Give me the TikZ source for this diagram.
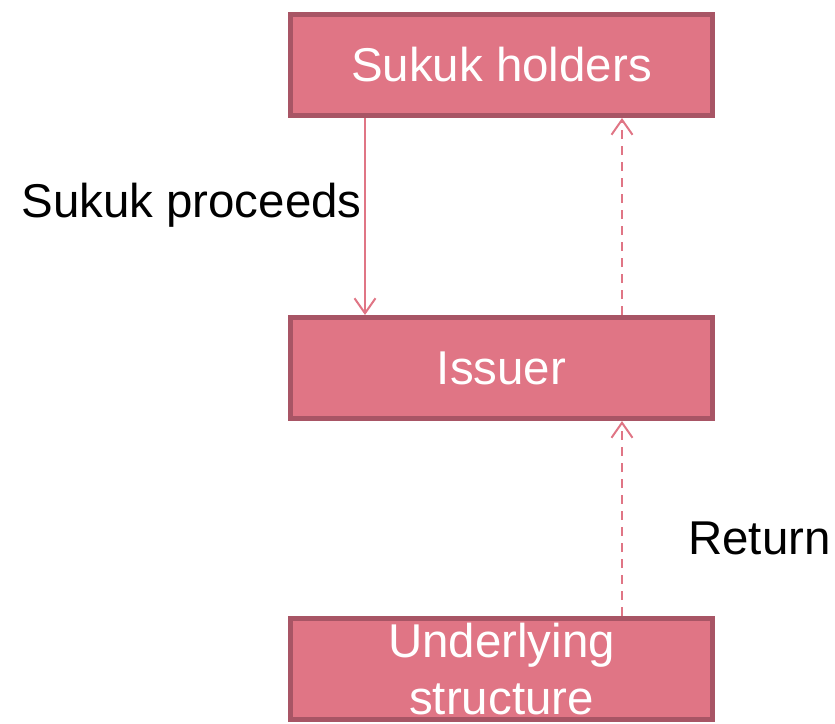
\documentclass[tikz,border=0pt]{standalone}
\usepackage{fontspec}
\setmainfont{Liberation Sans}
\usetikzlibrary{arrows.meta}
\definecolor{boxfill}{HTML}{E07585}
\definecolor{boxline}{HTML}{A85565}
\tikzset{
    party/.style={draw=boxline, fill=boxfill, line width=0.1cm, text=white,
        minimum width=8.44cm, minimum height=2.02cm, inner sep=0pt,
        align=center, font=\fontsize{27}{32}\selectfont},
    flow/.style={draw=boxfill, line width=0.04cm,
        -{Straight Barb[length=0.3cm,width=0.42cm]}},
    lbl/.style={font=\fontsize{27}{31}\selectfont, inner sep=0pt}
}
\begin{document}
\begin{tikzpicture}
    \useasboundingbox (0,0) rectangle (16.7,-14.48);
    \node[party] (holders) at (10.03,-1.3) {Sukuk holders};
    \node[party] (issuer) at (10.03,-7.36) {Issuer};
    \node[party] (asset) at (10.03,-13.38) {Underlying\\structure};
    % money in, returns out
    \draw[flow] ([xshift=-2.73cm]holders.south) -- ([xshift=-2.73cm]issuer.north);
    \draw[flow, dash pattern=on 0.18cm off 0.14cm] ([xshift=2.41cm]issuer.north) -- ([xshift=2.41cm]holders.south);
    \draw[flow, dash pattern=on 0.18cm off 0.14cm] ([xshift=2.41cm]asset.north) -- ([xshift=2.41cm]issuer.south);
    \node[lbl, anchor=east] (proceeds) at (7.24,-4.1) {Sukuk proceeds};
    \node[lbl, anchor=west] (ret) at (13.76,-10.76) {Return};
\end{tikzpicture}
\end{document}
